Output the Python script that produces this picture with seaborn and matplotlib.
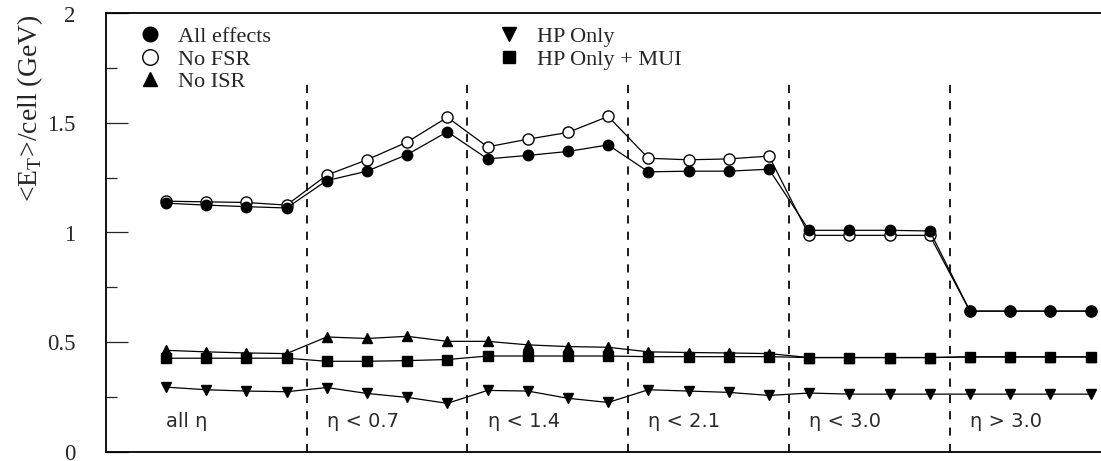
import matplotlib
matplotlib.use("Agg")
import matplotlib.pyplot as plt
from matplotlib.lines import Line2D
import numpy as np
import pandas as pd
import seaborn as sns

# Eta regions, four bins each
regions = ["all η", "η < 0.7", "η < 1.4", "η < 2.1", "η < 3.0", "η > 3.0"]
bins_per_region = 4

# Mean transverse energy per cell (GeV)
all_effects = [1.134, 1.125, 1.118, 1.112,
               1.237, 1.280, 1.356, 1.460,
               1.336, 1.352, 1.370, 1.400,
               1.277, 1.280, 1.280, 1.289,
               1.010, 1.010, 1.010, 1.007,
               0.641, 0.641, 0.641, 0.641]
no_fsr = [1.143, 1.140, 1.137, 1.125,
          1.262, 1.332, 1.413, 1.526,
          1.391, 1.426, 1.457, 1.530,
          1.339, 1.332, 1.336, 1.349,
          0.987, 0.987, 0.987, 0.987,
          0.641, 0.641, 0.641, 0.641]
no_isr = [0.462, 0.455, 0.450, 0.447,
          0.523, 0.516, 0.526, 0.503,
          0.503, 0.487, 0.479, 0.476,
          0.455, 0.452, 0.450, 0.447,
          0.429, 0.429, 0.429, 0.429,
          0.432, 0.432, 0.432, 0.432]
hp_only = [0.294, 0.282, 0.276, 0.273,
           0.292, 0.265, 0.247, 0.220,
           0.279, 0.276, 0.243, 0.224,
           0.282, 0.276, 0.270, 0.256,
           0.267, 0.262, 0.262, 0.262,
           0.262, 0.262, 0.262, 0.262]
hp_mui = [0.426, 0.426, 0.426, 0.426,
          0.412, 0.412, 0.415, 0.420,
          0.436, 0.436, 0.436, 0.436,
          0.433, 0.433, 0.433, 0.433,
          0.429, 0.429, 0.429, 0.429,
          0.432, 0.432, 0.432, 0.432]

yticks_major = [0, 0.5, 1, 1.5, 2]
ytick_labels = ["0", "0.5", "1", "1.5", "2"]

sns.set_style("white")
plt.rcParams["font.family"] = ["Liberation Serif", "DejaVu Serif"]
plt.rcParams["mathtext.fontset"] = "custom"
plt.rcParams["mathtext.rm"] = "Liberation Serif"

n_bins = len(all_effects)
bin_idx = np.arange(n_bins)

frames = []
for name, vals in [("All effects", all_effects), ("No FSR", no_fsr),
                   ("No ISR", no_isr), ("HP Only", hp_only),
                   ("HP Only + MUI", hp_mui)]:
    frames.append(pd.DataFrame({"bin": bin_idx, "et": vals, "series": name}))
df = pd.concat(frames, ignore_index=True)

styles = {
    "All effects": dict(marker="o", ms=7.5, mfc="black"),
    "No FSR": dict(marker="o", ms=8.0, mfc="white"),
    "No ISR": dict(marker="^", ms=7.5, mfc="black"),
    "HP Only": dict(marker="v", ms=7.5, mfc="black"),
    "HP Only + MUI": dict(marker="s", ms=6.5, mfc="black"),
}
draw_order = ["No ISR", "HP Only + MUI", "HP Only", "No FSR", "All effects"]

fig = plt.figure(figsize=(11.01, 4.61), dpi=100)
ax = fig.add_axes([106 / 1101, 1 - 451.5 / 461, 1 - 106 / 1101, (451.5 - 13.5) / 461])

# Region separators
for k in range(1, len(regions)):
    ax.vlines(k * bins_per_region - 0.5, 0, 1.70, colors="black",
              linestyles=(0, (4.7, 4.7)), linewidth=1.25, zorder=1)

for z, name in enumerate(draw_order):
    st = styles[name]
    sub = df[df["series"] == name]
    sns.lineplot(data=sub, x="bin", y="et", ax=ax, color="black",
                 linewidth=0.9, marker=st["marker"], markersize=st["ms"],
                 markerfacecolor=st["mfc"], markeredgecolor="black",
                 markeredgewidth=1.0, zorder=3 + z, legend=False)

# Region labels
for k, lab in enumerate(regions):
    ax.text(k * bins_per_region, 0.111, lab, ha="left", va="baseline",
            fontsize=14, family="DejaVu Sans", color="#2a2a2a")

ax.set_xlim(-1.4925, 23.26)
ax.set_ylim(0, 2)
ax.set_xticks([])
ax.set_xlabel("")
ax.set_yticks(yticks_major)
ax.set_yticklabels(ytick_labels)
ax.set_yticks([0.25, 0.75, 1.25, 1.75], minor=True)
ax.tick_params(axis="y", which="major", direction="in", length=15.8, width=0.9,
               pad=22, labelsize=16.5, left=True)
ax.tick_params(axis="y", which="minor", direction="in", length=7.9, width=0.9,
               left=True)

for side in ["left", "top", "bottom"]:
    ax.spines[side].set_visible(True)
    ax.spines[side].set_color("black")
    ax.spines[side].set_linewidth(1.3)
ax.spines["right"].set_visible(False)

ax.set_ylabel("<E$_{\\mathrm{T}}$>/cell (GeV)", fontsize=20, rotation=90,
              ha="center", va="center")
ax.yaxis.set_label_coords((30 - 106) / 995, (451.5 - 108) / 438)

handles = []
labels = ["All effects", "No FSR", "No ISR", "HP Only", "HP Only + MUI"]
for name in labels:
    st = styles[name]
    handles.append(Line2D([], [], linestyle="none", marker=st["marker"],
                          markersize=st["ms"], markerfacecolor=st["mfc"],
                          markeredgecolor="black", markeredgewidth=1.0))
ax.legend(handles, labels, ncol=2, frameon=False, fontsize=16,
          markerscale=1.4, handlelength=1.0, handletextpad=0.77,
          columnspacing=10.2, labelspacing=0.09, borderpad=0,
          borderaxespad=0, loc="upper left",
          bbox_to_anchor=(139 / 1101, 1 - 26.5 / 461),
          bbox_transform=fig.transFigure)

fig.savefig("out.png", dpi=100)
